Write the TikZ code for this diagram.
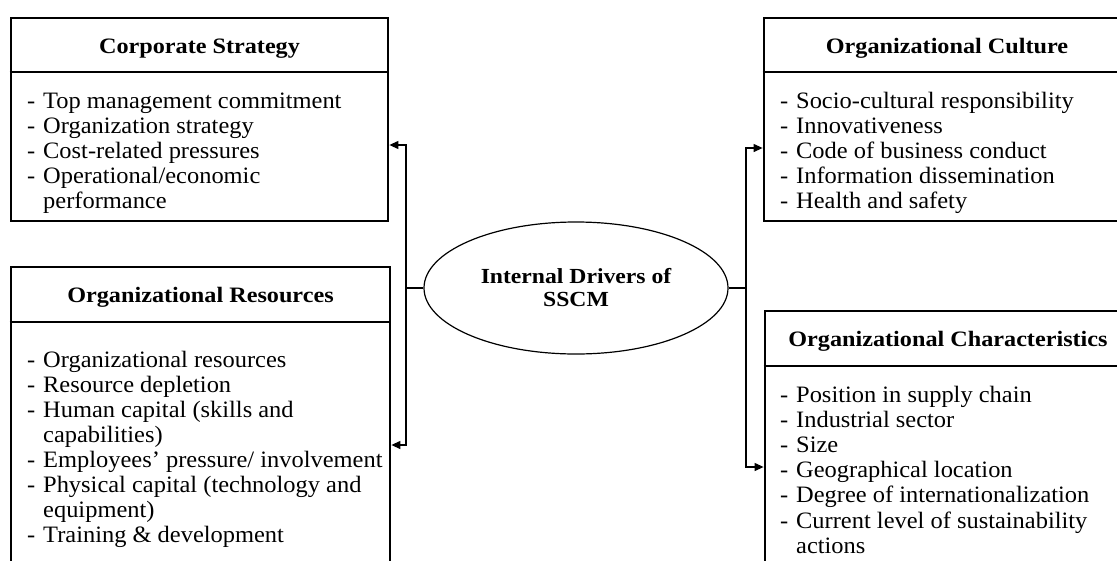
\documentclass[tikz,border=0pt]{standalone}
\usepackage{fontspec}
\setmainfont{Liberation Serif}[FakeStretch=1.04]
\newfontfamily\ttlfont{Liberation Serif}[FakeStretch=1.1]
\usetikzlibrary{arrows.meta,shapes.geometric}
\newcommand\itm{\makebox[16pt][l]{-}}
\newcommand\cnt{\hspace*{16pt}}
\tikzset{
  box/.style={draw, line width=2.8pt, rectangle, inner sep=0pt},
  sepline/.style={line width=2.8pt},
  ttl/.style={anchor=base, inner sep=0pt, font=\ttlfont\fontsize{22}{24.5}\selectfont\bfseries},
  items/.style={anchor=base west, inner sep=0pt},
  conn/.style={line width=1.2pt},
  arr/.style={line width=1.2pt, -{Triangle[length=9pt,width=8pt]}},
  drv/.style={draw, ellipse, line width=1.2pt, minimum width=304pt, minimum height=132pt, inner sep=0pt, align=center, font=\ttlfont\fontsize{21.5}{23}\selectfont\bfseries}
}
\begin{document}
\begin{tikzpicture}[x=1pt,y=-1pt]
\useasboundingbox (0,0) rectangle (1117,560);
\clip (0,0) rectangle (1117,560);
\fill[white] (0,0) rectangle (1117,560);
% boxes
\node[box, minimum width=377pt, minimum height=203pt] (cs) at (199.5,119.5) {};
\node[box, minimum width=372pt, minimum height=203pt] (oc) at (950,119.5) {};
\node[box, minimum width=379pt, minimum height=313pt] (or) at (200.5,423.5) {};
\node[box, minimum width=372pt, minimum height=289pt] (och) at (951,455.5) {};
\draw[sepline] (cs.west |- 0,72) -- (cs.east |- 0,72);
\draw[sepline] (oc.west |- 0,72) -- (oc.east |- 0,72);
\draw[sepline] (or.west |- 0,322) -- (or.east |- 0,322);
\draw[sepline] (och.west |- 0,366) -- (och.east |- 0,366);
% titles
\node[ttl] (cst) at (199.5,53) {Corporate Strategy};
\node[ttl] (oct) at (947,53) {Organizational Culture};
\node[ttl] (ort) at (200.5,302) {Organizational Resources};
\node[ttl] (ocht) at (948,346) {Organizational Characteristics};
% items
\node[items] (csi) at (27,108) {\fontsize{23.5}{25}\selectfont\begin{tabular}[t]{@{}l@{}}
\itm Top management commitment\\
\itm Organization strategy\\
\itm Cost-related pressures\\
\itm Operational/economic\\
\cnt performance
\end{tabular}};
\node[items] (oci) at (780,108) {\fontsize{23.5}{25}\selectfont\begin{tabular}[t]{@{}l@{}}
\itm Socio-cultural responsibility\\
\itm Innovativeness\\
\itm Code of business conduct\\
\itm Information dissemination\\
\itm Health and safety
\end{tabular}};
\node[items] (ori) at (27,367) {\fontsize{23.5}{25}\selectfont\begin{tabular}[t]{@{}l@{}}
\itm Organizational resources\\
\itm Resource depletion\\
\itm Human capital (skills and\\
\cnt capabilities)\\
\itm Employees' pressure/ involvement\\
\itm Physical capital (technology and\\
\cnt equipment)\\
\itm Training \& development
\end{tabular}};
\node[items] (ochi) at (780,402) {\fontsize{23.5}{25.2}\selectfont\begin{tabular}[t]{@{}l@{}}
\itm Position in supply chain\\
\itm Industrial sector\\
\itm Size\\
\itm Geographical location\\
\itm Degree of internationalization\\
\itm Current level of sustainability\\
\cnt actions
\end{tabular}};
% central ellipse
\node[drv] (drv) at (576,288) {Internal Drivers of\\SSCM};
% connectors
\coordinate (lj) at (406,288);
\coordinate (rj) at (746,288);
\draw[conn] (drv.west) -- (lj);
\draw[conn] (drv.east) -- (rj);
\draw[arr] (lj) |- ([yshift=-25.5pt]cs.east);
\draw[arr] (lj) |- ([yshift=-21.5pt]or.east);
\draw[arr] (rj) |- ([yshift=-28.5pt]oc.west);
\draw[arr] (rj) |- ([yshift=-11.5pt]och.west);
\end{tikzpicture}
\end{document}
